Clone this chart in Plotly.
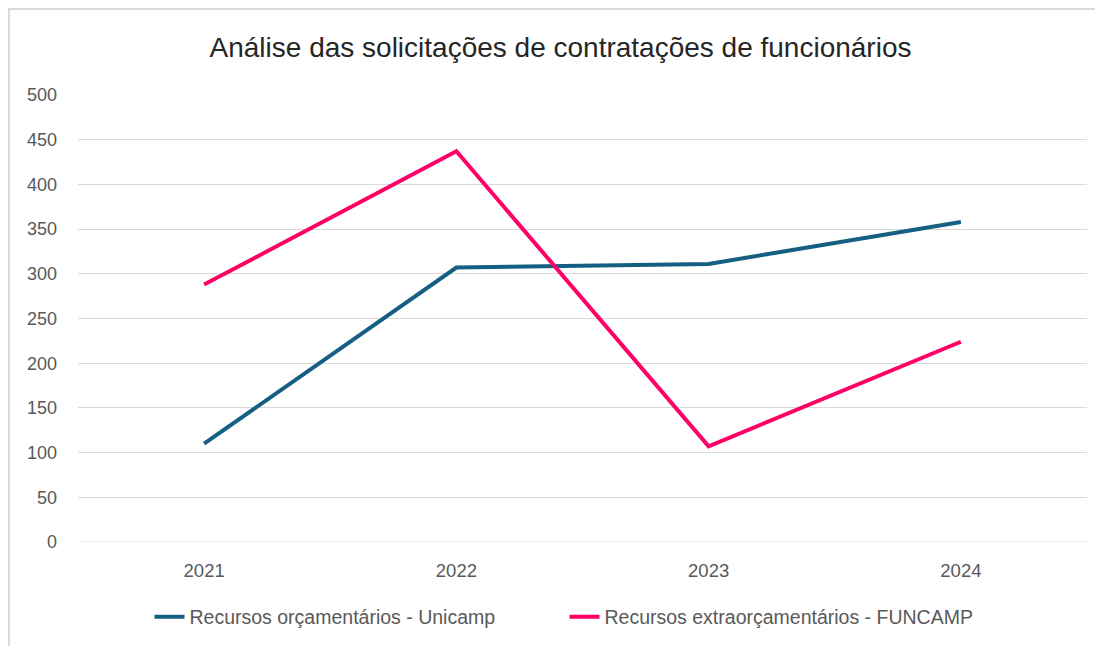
import plotly.graph_objects as go

years = ["2021", "2022", "2023", "2024"]
unicamp = [110, 307, 311, 358]
funcamp = [288, 437, 107, 224]
series_names = ["Recursos orçamentários - Unicamp", "Recursos extraorçamentários - FUNCAMP"]
title_text = "Análise das solicitações de contratações de funcionários"
y_ticks = [0, 50, 100, 150, 200, 250, 300, 350, 400, 450, 500]

font_family = "Liberation Sans, Arial, sans-serif"

W, H = 1103, 646
L, R, T, B = 70, 24, 87, 112
pw, ph = W - L - R, H - T - B

fig = go.Figure()
fig.add_trace(go.Scatter(x=years, y=unicamp, mode="lines", name=series_names[0],
                         line=dict(color="#156082", width=4)))
fig.add_trace(go.Scatter(x=years, y=funcamp, mode="lines", name=series_names[1],
                         line=dict(color="#FF0066", width=4)))

fig.update_layout(
    width=W, height=H,
    paper_bgcolor="white", plot_bgcolor="white",
    margin=dict(l=L, r=R, t=T, b=B),
    title=dict(text=title_text, x=552.5 / W, xanchor="center", y=1 - 39 / H, yanchor="middle",
               font=dict(family=font_family, size=28, color="#262626")),
    font=dict(family=font_family, color="#595959", size=18),
    legend=dict(orientation="h", x=(556.5 - L) / pw, xanchor="center", y=(ph - (609 - T)) / ph,
                yanchor="middle", font=dict(size=19.5, color="#595959"), traceorder="normal",
                entrywidth=370),
    xaxis=dict(type="category", showgrid=False, zeroline=False, showline=False,
               ticks="", tickfont=dict(size=18.5, color="#595959"), range=[-0.5, 3.5],
               ticklabelstandoff=15),
    yaxis=dict(range=[0, 500], tickvals=y_ticks, showgrid=True, gridcolor="#D9D9D9",
               gridwidth=1, zeroline=False, showline=False, ticks="",
               tickfont=dict(size=18, color="#595959"), ticklabelstandoff=20),
    shapes=[
        dict(type="line", xref="paper", yref="y", x0=0, x1=1, y0=0, y1=0,
             line=dict(color="#D9D9D9", width=1), layer="below"),
        dict(type="rect", xref="paper", yref="paper",
             x0=-(L - 1) / pw, x1=(W - L + 5) / pw, y0=-(B + 5) / ph, y1=1 + (T - 1) / ph,
             line=dict(color="#D9D9D9", width=2), fillcolor="rgba(0,0,0,0)", layer="below"),
    ],
)

fig.write_html("out.html")
